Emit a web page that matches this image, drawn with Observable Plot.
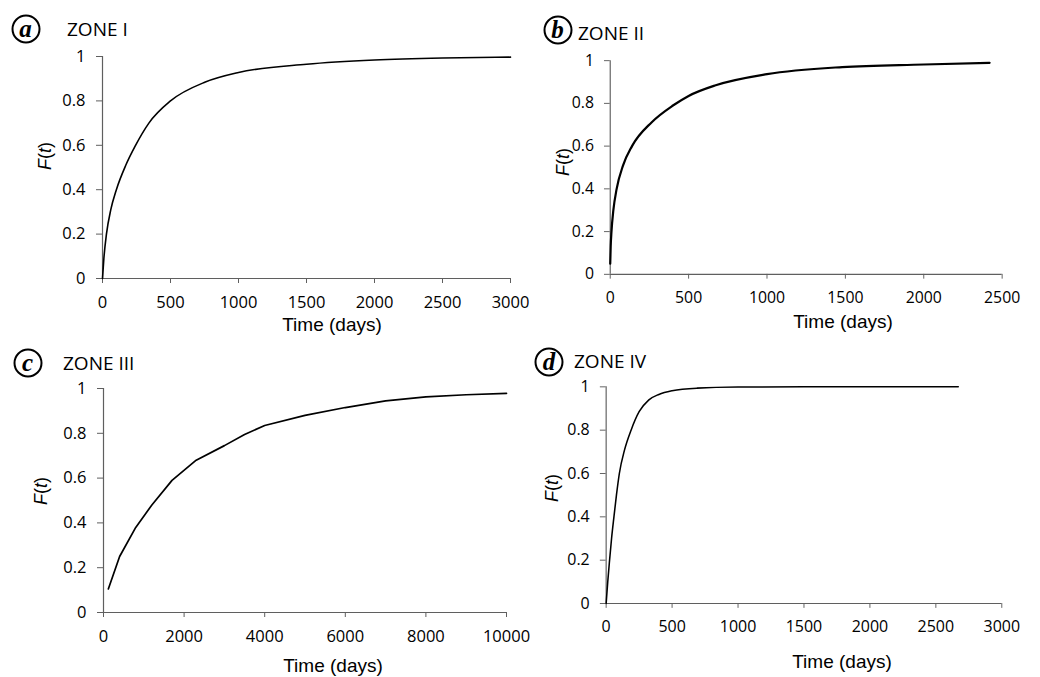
<!DOCTYPE html>
<html>
<head>
<meta charset="utf-8">
<script src="https://cdn.jsdelivr.net/npm/d3@7"></script>
<script src="https://cdn.jsdelivr.net/npm/@observablehq/plot@0.6"></script>
<style>
  html, body { margin: 0; padding: 0; background: #fff; }
  #page { position: relative; width: 1040px; height: 677px; overflow: hidden; background: #fff; }
  .panel { position: absolute; }
  .panel svg text, .panel svg g { font-size: 16.5px !important; font-family: "Open Sans", sans-serif; }
  .abs { position: absolute; white-space: nowrap; transform: translate(-50%, -50%); color: #000; }
  .title { font-family: "Open Sans", sans-serif; font-size: 19px; transform: translate(0, -50%); }
  .xlab { font-family: "Liberation Sans", Arial, sans-serif; font-size: 19px; }
  .ylab { font-family: "Liberation Sans", Arial, sans-serif; font-size: 18px; transform: translate(-50%, -50%) rotate(-90deg); }
  .circ { width: 25px; height: 25px; border: 2px solid #000; border-radius: 50%;
          font-family: "Liberation Serif", "Times New Roman", serif; font-weight: bold; font-style: italic;
          font-size: 25px; line-height: 23px; text-align: center; }
</style>
</head>
<body>
<div id="page"></div>
<script>
// ---- Data ----
const zoneI_t = [0, 10, 29, 61, 102, 171, 239, 341, 500, 756, 1000, 1500, 2000, 2500, 3000];
const zoneI_F = [0, 0.09, 0.2, 0.31, 0.40, 0.51, 0.595, 0.70, 0.80, 0.885, 0.928, 0.965, 0.984, 0.993, 0.997];

const zoneII_t = [0, 3, 8, 20, 41, 82, 139, 265, 400, 500, 673, 1000, 1480, 2000, 2420];
const zoneII_F = [0.05, 0.13, 0.2, 0.3, 0.4, 0.51, 0.6, 0.712, 0.79, 0.835, 0.885, 0.937, 0.97, 0.982, 0.99];

const zoneIII_t = [120, 400, 800, 1200, 1700, 2300, 3000, 3500, 4000, 5000, 6000, 7000, 8000, 9000, 10000];
const zoneIII_F = [0.105, 0.25, 0.38, 0.48, 0.59, 0.68, 0.745, 0.795, 0.835, 0.88, 0.915, 0.945, 0.963, 0.972, 0.978];

const zoneIV_t = [0, 12, 26, 41, 59, 78, 100, 140, 189, 250, 324, 400, 500, 690, 1000, 1500, 2670];
const zoneIV_F = [0, 0.1, 0.2, 0.3, 0.4, 0.5, 0.6, 0.71, 0.8, 0.885, 0.94, 0.965, 0.982, 0.994, 0.999, 1, 1];

const xTicks3000 = [0, 500, 1000, 1500, 2000, 2500, 3000];
const xTicks2500 = [0, 500, 1000, 1500, 2000, 2500];
const xTicks10000 = [0, 2000, 4000, 6000, 8000, 10000];
const yTicks = [0, 0.2, 0.4, 0.6, 0.8, 1];

const zoneTitles = ["ZONE I", "ZONE II", "ZONE III", "ZONE IV"];
const panelLetters = ["a", "b", "c", "d"];
const xLabel = "Time (days)";

// ---- Layout ----
const page = document.getElementById("page");
const axisColor = "#5f5f5f";
const ML = 102, MT = 20, MB = 62, MR = 40;

const panels = [
  { t: zoneI_t, F: zoneI_F, domain: [0, 3000], ticks: xTicks3000, x0: 102, x1: 510, yTop: 56, yBot: 278, sw: 1.6, curve: "monotone-x",
    title: [67, 29], circ: [25.5, 29], xlab: [332, 325], ylab: [45, 156] },
  { t: zoneII_t, F: zoneII_F, domain: [0, 2500], ticks: xTicks2500, x0: 614, x1: 1023, yTop: 61, yBot: 284, sw: 2.3, curve: "monotone-x",
    title: [578, 33], circ: [557.5, 30], xlab: [843, 322], ylab: [563, 162] },
  { t: zoneIII_t, F: zoneIII_F, domain: [0, 10000], ticks: xTicks10000, x0: 103, x1: 506, yTop: 388, yBot: 612, sw: 1.7, curve: "linear",
    title: [63, 363], circ: [27.5, 363], xlab: [333, 666], ylab: [41, 491] },
  { t: zoneIV_t, F: zoneIV_F, domain: [0, 3000], ticks: xTicks3000, x0: 609, x1: 1018, yTop: 387, yBot: 611, sw: 1.6, curve: "monotone-x",
    title: [574, 361], circ: [549, 362], xlab: [842, 662], ylab: [552, 488] }
];

panels.forEach((p, i) => {
  const data = p.t.map((t, k) => ({ t, F: p.F[k] }));
  const W = ML + (p.x1 - p.x0) + MR;
  const H = MT + (p.yBot - p.yTop) + MB;
  const chart = Plot.plot({
    width: W, height: H,
    marginLeft: ML, marginRight: MR, marginTop: MT, marginBottom: MB,
    style: { fontFamily: "'Open Sans', sans-serif", fontSize: "16.5px", color: "#000", background: "transparent", overflow: "visible" },
    x: { domain: p.domain, ticks: p.ticks },
    y: { domain: [0, 1], ticks: yTicks },
    marks: [
      Plot.axisX({ ticks: p.ticks, tickFormat: d => String(d), tickSize: 5, tickPadding: 13, label: null, stroke: axisColor, fill: "#000", fontSize: 16.5 }),
      Plot.axisY({ ticks: yTicks, tickFormat: d3.format("~g"), tickSize: 6, tickPadding: 11, label: null, stroke: axisColor, fill: "#000", fontSize: 16.5 }),
      Plot.ruleY([0], { stroke: axisColor, strokeWidth: 1.2 }),
      Plot.ruleX([p.domain[0]], { stroke: axisColor, strokeWidth: 1.2 }),
      Plot.line(data, { x: "t", y: "F", stroke: "#000", strokeWidth: p.sw, curve: p.curve })
    ]
  });
  const wrap = document.createElement("div");
  wrap.className = "panel";
  wrap.style.left = (p.x0 - ML) + "px";
  wrap.style.top = (p.yTop - MT) + "px";
  wrap.appendChild(chart);
  page.appendChild(wrap);

  const title = document.createElement("div");
  title.className = "abs title";
  title.style.left = p.title[0] + "px"; title.style.top = p.title[1] + "px";
  title.textContent = zoneTitles[i];
  page.appendChild(title);

  const circ = document.createElement("div");
  circ.className = "abs circ";
  circ.style.left = p.circ[0] + "px"; circ.style.top = p.circ[1] + "px";
  circ.textContent = panelLetters[i];
  page.appendChild(circ);

  const xl = document.createElement("div");
  xl.className = "abs xlab";
  xl.style.left = p.xlab[0] + "px"; xl.style.top = p.xlab[1] + "px";
  xl.textContent = xLabel;
  page.appendChild(xl);

  const yl = document.createElement("div");
  yl.className = "abs ylab";
  yl.style.left = p.ylab[0] + "px"; yl.style.top = p.ylab[1] + "px";
  yl.innerHTML = "<i>F</i>(<i>t</i>)";
  page.appendChild(yl);
});
</script>
</body>
</html>
